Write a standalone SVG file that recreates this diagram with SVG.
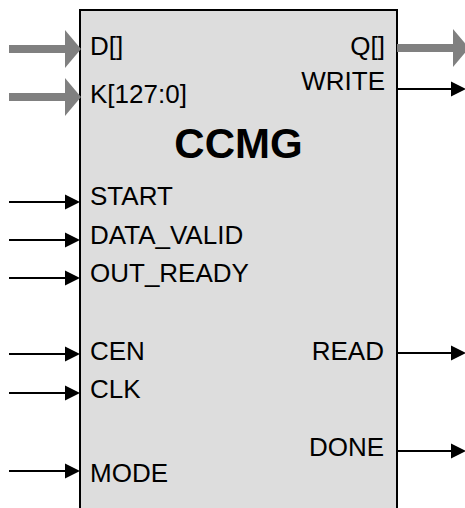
<svg xmlns="http://www.w3.org/2000/svg" width="465" height="508" viewBox="0 0 465 508">
  <style>
    .box { fill: #dddddd; stroke: #000000; stroke-width: 2; }
    .lbl { font-family: "Liberation Sans", Arial, sans-serif; font-size: 26px; fill: #000000; }
    .end { text-anchor: end; }
    .title { font-family: "Liberation Sans", Arial, sans-serif; font-size: 42px; font-weight: bold; text-anchor: middle; fill: #000000; }
    .bus { stroke: #808080; stroke-width: 8; fill: none; marker-end: url(#bushead); }
    .sig { stroke: #000000; stroke-width: 2; fill: none; marker-end: url(#sighead); }
  </style>
  <defs>
    <marker id="bushead" markerUnits="userSpaceOnUse" markerWidth="16" markerHeight="38" refX="0" refY="19" orient="auto" overflow="visible">
      <path d="M0,0 L16,19 L0,38 Z" fill="#808080"/>
    </marker>
    <marker id="sighead" markerUnits="userSpaceOnUse" markerWidth="15" markerHeight="15" refX="5" refY="7.5" orient="auto" overflow="visible">
      <path d="M0,0 L15,7.5 L0,15 Z" fill="#000000"/>
    </marker>
  </defs>

  <g id="ccmg">
    <rect class="box" x="80" y="10" width="317" height="510"/>
    <text class="title" x="238.5" y="158">CCMG</text>
    <text class="lbl" x="90" y="55">D[]</text>
    <text class="lbl" x="90" y="103">K[127:0]</text>
    <text class="lbl" x="90" y="205">START</text>
    <text class="lbl" x="90" y="244">DATA_VALID</text>
    <text class="lbl" x="90" y="282">OUT_READY</text>
    <text class="lbl" x="90" y="360">CEN</text>
    <text class="lbl" x="90" y="398">CLK</text>
    <text class="lbl" x="90" y="482">MODE</text>
    <text class="lbl end" x="385" y="55">Q[]</text>
    <text class="lbl end" x="385" y="90">WRITE</text>
    <text class="lbl end" x="384" y="360">READ</text>
    <text class="lbl end" x="384" y="456">DONE</text>
  </g>

  <g id="connectors">
    <line class="bus" x1="9" y1="49" x2="65" y2="49"/>
    <line class="bus" x1="9" y1="97" x2="65" y2="97"/>
    <line class="bus" x1="397" y1="48" x2="453" y2="48"/>
    <line class="sig" x1="9" y1="202" x2="70" y2="202"/>
    <line class="sig" x1="9" y1="240" x2="70" y2="240"/>
    <line class="sig" x1="9" y1="278" x2="70" y2="278"/>
    <line class="sig" x1="9" y1="354" x2="70" y2="354"/>
    <line class="sig" x1="9" y1="393" x2="70" y2="393"/>
    <line class="sig" x1="9" y1="471" x2="70" y2="471"/>
    <line class="sig" x1="397" y1="89" x2="456" y2="89"/>
    <line class="sig" x1="397" y1="353" x2="456" y2="353"/>
    <line class="sig" x1="397" y1="451" x2="456" y2="451"/>
  </g>
</svg>
